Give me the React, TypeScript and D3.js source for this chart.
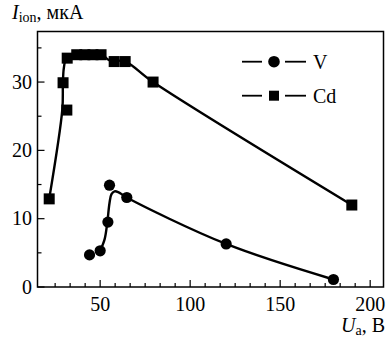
import React from "react";
import * as d3 from "d3";

const W = 386;
const H = 340;

// V series (circles)
const vX = [44.1, 50.0, 54.3, 55.2, 64.8, 120.0, 179.6];
const vY = [4.7, 5.3, 9.5, 14.9, 13.1, 6.3, 1.1];
// V fitted curve
const vFitX = [50.0, 52.5, 54.0, 55.2, 56.3, 58.0, 60.0, 64.8, 120.0, 179.6];
const vFitY = [5.3, 7.0, 9.5, 12.3, 13.6, 14.0, 13.9, 13.1, 6.3, 1.1];

// Cd series (squares)
const cdX = [21.7, 29.4, 31.5, 31.7, 37.0, 41.5, 46.0, 50.5, 57.8, 63.9, 79.4, 189.8];
const cdY = [12.9, 29.9, 25.9, 33.5, 34.0, 34.0, 34.0, 34.0, 33.0, 33.0, 30.0, 12.0];
// Cd fitted curve
const cdFitX = [21.7, 29.0, 29.3, 29.8, 31.3, 34.5, 50.5, 55.0, 63.9, 79.4, 189.8];
const cdFitY = [12.9, 26.0, 29.5, 32.0, 33.6, 34.1, 34.1, 33.2, 33.0, 30.0, 12.0];

const xMajor = [50, 100, 150, 200];
const xMajorLabels = ["50", "100", "150", "200"];
const xMinor = [25, 33.33, 41.67, 58.33, 66.67, 75, 83.33, 91.67, 108.33, 116.67, 125, 133.33, 141.67, 158.33, 166.67, 175, 183.33, 191.67];
const yMajor = [0, 10, 20, 30];
const yMajorLabels = ["0", "10", "20", "30"];
const yMinor = [5, 15, 25, 35];

const legendNames = ["V", "Cd"];

const FONT = "Liberation Serif, Times New Roman, Times, serif";

export default function App() {
  const x = d3.scaleLinear().domain([15.2, 207.4]).range([37.5, 383.5]);
  const y = d3.scaleLinear().domain([0, 37.4]).range([287, 31.5]);
  const [x0, x1] = x.range();
  const [y0, y1] = y.range();

  const line = d3
    .line<[number, number]>()
    .x((d) => x(d[0]))
    .y((d) => y(d[1]))
    .curve(d3.curveCatmullRom.alpha(0.5));

  const vFit: [number, number][] = vFitX.map((v, i) => [v, vFitY[i]]);
  const cdFit: [number, number][] = cdFitX.map((v, i) => [v, cdFitY[i]]);

  const sq = 11;
  const r = 5.6;
  const ts = { fontFamily: FONT, fontSize: 20 } as React.CSSProperties;

  return (
    <svg
      width={W}
      height={H}
      style={{ position: "absolute", left: 0, top: 0, background: "#fff", fontFamily: FONT }}
    >
      <rect x={0} y={0} width={W} height={H} fill="#fff" />
      {/* frame */}
      <rect x={x0} y={y1} width={x1 - x0} height={y0 - y1} fill="none" stroke="#000" strokeWidth={1.5} />
      {/* x ticks */}
      {xMajor.map((t) => (
        <line key={"xM" + t} x1={x(t)} x2={x(t)} y1={y0} y2={y0 - 7} stroke="#000" strokeWidth={1.2} />
      ))}
      {xMinor.map((t) => (
        <line key={"xm" + t} x1={x(t)} x2={x(t)} y1={y0} y2={y0 - 4} stroke="#000" strokeWidth={1.2} />
      ))}
      {xMajor.map((t, i) => (
        <text key={"xl" + t} x={x(t)} y={310.5} style={ts} textAnchor="middle">
          {xMajorLabels[i]}
        </text>
      ))}
      {/* y ticks */}
      {yMajor.map((t) => (
        <line key={"yM" + t} x1={x0} x2={x0 + 7} y1={y(t)} y2={y(t)} stroke="#000" strokeWidth={1.2} />
      ))}
      {yMinor.map((t) => (
        <line key={"ym" + t} x1={x0} x2={x0 + 4} y1={y(t)} y2={y(t)} stroke="#000" strokeWidth={1.2} />
      ))}
      {yMajor.map((t, i) => (
        <text key={"yl" + t} x={32} y={y(t) + 6.8} style={ts} textAnchor="end">
          {yMajorLabels[i]}
        </text>
      ))}
      {/* axis titles */}
      <text x={12} y={19} style={ts}>
        <tspan fontStyle="italic">I</tspan>
        <tspan style={{ fontSize: 14 }} dy={3}>ion</tspan>
        <tspan dy={-3}>, мкА</tspan>
      </text>
      <text x={385} y={332} style={ts} textAnchor="end">
        <tspan fontStyle="italic">U</tspan>
        <tspan style={{ fontSize: 14 }} dy={3}>a</tspan>
        <tspan dy={-3}>, В</tspan>
      </text>
      {/* curves */}
      <path d={line(cdFit) || ""} fill="none" stroke="#000" strokeWidth={2.4} />
      <path d={line(vFit) || ""} fill="none" stroke="#000" strokeWidth={2.4} />
      {/* markers */}
      {cdX.map((v, i) => (
        <rect key={"cd" + i} x={x(v) - sq / 2} y={y(cdY[i]) - sq / 2} width={sq} height={sq} fill="#000" />
      ))}
      {vX.map((v, i) => (
        <circle key={"v" + i} cx={x(v)} cy={y(vY[i])} r={r} fill="#000" />
      ))}
      {/* legend */}
      <g>
        <line x1={242} x2={262} y1={61.7} y2={61.7} stroke="#000" strokeWidth={1.8} />
        <circle cx={274} cy={61.7} r={5.8} fill="#000" />
        <line x1={285} x2={306} y1={61.7} y2={61.7} stroke="#000" strokeWidth={1.8} />
        <text x={313} y={68.5} style={ts}>{legendNames[0]}</text>
        <line x1={242} x2={262} y1={95.7} y2={95.7} stroke="#000" strokeWidth={1.8} />
        <rect x={269} y={90.7} width={10} height={10} fill="#000" />
        <line x1={285} x2={306} y1={95.7} y2={95.7} stroke="#000" strokeWidth={1.8} />
        <text x={313} y={102.5} style={ts}>{legendNames[1]}</text>
      </g>
    </svg>
  );
}
